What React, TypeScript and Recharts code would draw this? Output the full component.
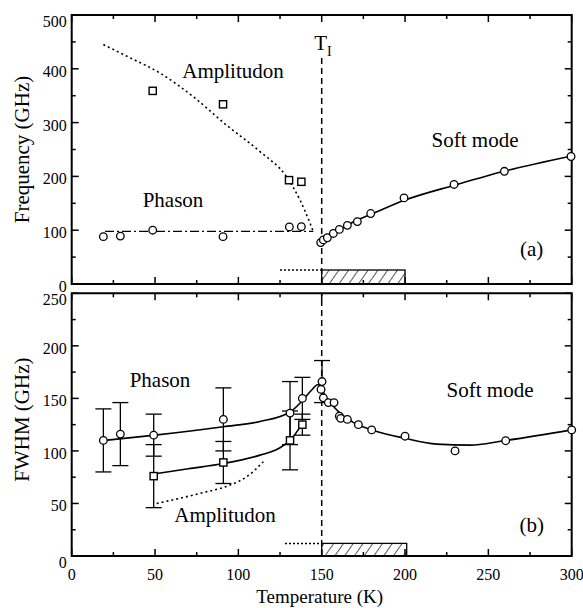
import React from 'react';
import {
  ComposedChart,
  XAxis,
  YAxis,
  Line,
  Scatter,
  ErrorBar,
  ReferenceLine,
  ReferenceArea,
  ReferenceDot,
} from 'recharts';

const FONT = "'Liberation Serif', 'DejaVu Serif', 'Times New Roman', Times, serif";
const TXT = { fontFamily: FONT };

// ---------- Panel (a): Frequency ----------
const ampFreqT = [48.6, 90.8, 130.4, 137.8];
const ampFreqV = [359, 334, 193, 190];
const phaFreqT = [19, 29.2, 48.6, 90.8, 130.6, 137.8];
const phaFreqV = [88, 89, 100, 88, 106, 106.5];
const softFreqT = [149.4, 151, 153.4, 157, 160.6, 165.4, 171.4, 179.4, 199.4, 229.4, 259.6, 299.6];
const softFreqV = [77, 82, 86, 94, 101.5, 109, 116, 131, 160, 185, 209.5, 237];

const ampFreqCurveT = [19, 34, 53, 73, 93, 113, 129, 137, 143, 145];
const ampFreqCurveV = [445, 422, 392, 348, 295, 246, 199, 156, 113, 97];
const phaFreqCurveT = [20, 145];
const phaFreqCurveV = [98, 98];
const softFreqCurveT = [149, 155, 160, 170, 180, 200, 230, 260, 300];
const softFreqCurveV = [77, 89, 99, 117, 130, 156, 184, 210, 238];

const hatchFreqT = [150, 200];
const hatchFreqTop = 26;
const dottedFreqT = [125, 150];
const tiFreqTop = 422;

// ---------- Panel (b): FWHM ----------
const phaWidthT = [19, 29.2, 49.2, 91, 131, 138.4, 150.2];
const phaWidthV = [110, 116, 115, 130, 136, 150, 166];
const phaWidthErr = [30, 30, 20, 30, 30, 20, 20];
const ampWidthT = [49.2, 91, 131, 138.4];
const ampWidthV = [76, 89, 110, 125];
const ampWidthErr = [30, 20, 28, 10];
const softWidthT = [149.6, 151, 154, 157.4, 160.6, 161.4, 165.4, 172, 180, 200, 230, 260.4, 300];
const softWidthV = [158.5, 150.5, 146, 146, 133, 131, 130, 125, 120, 114, 100, 109.7, 120];

const phaWidthCurveT = [20, 50, 91, 113, 131, 138.5, 144, 147.5, 150];
const phaWidthCurveV = [110, 115, 123, 128, 137, 148, 158, 163, 162];
const softWidthCurveT = [150, 152, 155, 161, 166, 172, 180, 200, 219, 239, 259, 300];
const softWidthCurveV = [162, 152, 146, 136, 130, 124.6, 120, 112, 106.5, 105.5, 109.6, 120];
const ampWidthCurveT = [49.2, 70, 91, 113, 125, 131, 138.4];
const ampWidthCurveV = [78, 83, 88, 96, 103, 110, 126];
const ampWidthDotT = [51, 77, 95, 105, 115];
const ampWidthDotV = [50, 59.6, 67.5, 75.4, 89.7];

const hatchWidthT = [150, 201];
const hatchWidthTop = 12;
const dottedWidthT = [128, 150];

const T_I = 150;

const xTicks = [0, 25, 50, 75, 100, 125, 150, 175, 200, 225, 250, 275, 300];
const freqTicks = [0, 50, 100, 150, 200, 250, 300, 350, 400, 450, 500];
const widthTicks = [0, 25, 50, 75, 100, 125, 150, 175, 200, 225, 250];

const annoA = [
  { x: 96.8, y: 396, text: 'Amplitudon' },
  { x: 60.8, y: 156, text: 'Phason' },
  { x: 242, y: 268, text: 'Soft mode' },
  { x: 276, y: 65, text: '(a)' },
];
const annoB = [
  { x: 53, y: 167.5, text: 'Phason' },
  { x: 92, y: 39, text: 'Amplitudon' },
  { x: 251, y: 158, text: 'Soft mode' },
  { x: 276, y: 29.5, text: '(b)' },
];
const tiLabelPos = { x: 150, y: 435 };

const zip = (t: number[], v: number[], e?: number[]) =>
  t.map((x, i) => (e ? { x, y: v[i], err: e[i] } : { x, y: v[i] }));

// ---------- layout ----------
const W = 583;
const LEFT = 71.7;
const RIGHT = 11.3;
const PLOT_W = W - LEFT - RIGHT;
const H1 = 300;
const TOP1 = 15;
const XH1 = 16;
const PLOT_H1 = H1 - TOP1 - XH1;
const H2 = 328;
const TOP2 = 13.3;
const XH2 = 52;
const PLOT_H2 = H2 - TOP2 - XH2;

const makeXTick = (plotH: number, showLabel: boolean) => (props: any) => {
  const { x, y, payload } = props;
  const v = payload.value;
  const major = v % 50 === 0;
  const len = major ? 7 : 4;
  return (
    <g>
      <line x1={x} x2={x} y1={y} y2={y - len} stroke="#000" strokeWidth={1.5} />
      <line x1={x} x2={x} y1={y - plotH} y2={y - plotH + len} stroke="#000" strokeWidth={1.5} />
      {showLabel && major ? (
        <text x={x} y={y + 24} textAnchor="middle" style={TXT} fontSize={16} fill="#000">
          {v}
        </text>
      ) : null}
    </g>
  );
};

const makeYTick = (plotW: number, step: number, maxV: number, lowZero: boolean) => (props: any) => {
  const { x, y, payload } = props;
  const v = payload.value;
  const major = v % step === 0;
  const len = major ? 7 : 4;
  let dy = 8;
  if (v === maxV) dy = 12;
  if (v === 0 && lowZero) dy = 12;
  return (
    <g>
      <line x1={x} x2={x + len} y1={y} y2={y} stroke="#000" strokeWidth={1.5} />
      <line x1={x + plotW} x2={x + plotW - len} y1={y} y2={y} stroke="#000" strokeWidth={1.5} />
      {major ? (
        <text x={x - 5} y={y + dy} textAnchor="end" style={TXT} fontSize={16} fill="#000">
          {v}
        </text>
      ) : null}
    </g>
  );
};

const circleShape = (p: any) => (
  <circle cx={p.cx} cy={p.cy} r={3.8} fill="#fff" stroke="#000" strokeWidth={1.3} />
);
const squareShape = (p: any) => (
  <rect x={p.cx - 3.6} y={p.cy - 3.6} width={7.2} height={7.2} fill="#fff" stroke="#000" strokeWidth={1.4} />
);

const hatchShape = (id: string) => (p: any) => (
  <g>
    <defs>
      <pattern id={id} patternUnits="userSpaceOnUse" width={8} height={8} patternTransform="rotate(35)">
        <line x1={0} y1={0} x2={0} y2={8} stroke="#000" strokeWidth={1.3} />
      </pattern>
    </defs>
    <rect x={p.x} y={p.y} width={p.width} height={p.height} fill={`url(#${id})`} stroke="#000" strokeWidth={1.3} />
  </g>
);

const textLabel = (text: string, size = 21) => ({
  content: (p: any) => {
    const vb = p.viewBox || {};
    const cx = (vb.x ?? 0) + (vb.width ?? 0) / 2;
    const cy = (vb.y ?? 0) + (vb.height ?? 0) / 2;
    return (
      <text x={cx} y={cy + 7} textAnchor="middle" style={TXT} fontSize={size} fill="#000">
        {text}
      </text>
    );
  },
});

const tiLabel = {
  content: (p: any) => {
    const vb = p.viewBox || {};
    const cx = (vb.x ?? 0) + (vb.width ?? 0) / 2;
    const cy = (vb.y ?? 0) + (vb.height ?? 0) / 2;
    return (
      <text x={cx - 7.5} y={cy} style={TXT} fontSize={21} fill="#000">
        T
        <tspan fontSize={14} dy={6}>
          I
        </tspan>
      </text>
    );
  },
};

const yTitle = (text: string, shift: number) => ({
  content: (p: any) => {
    const vb = p.viewBox || {};
    const cy = (vb.y ?? 0) + (vb.height ?? 0) / 2 + shift;
    const bx = 29;
    return (
      <text
        x={bx}
        y={cy}
        textAnchor="middle"
        style={TXT}
        fontSize={21}
        fill="#000"
        transform={`rotate(-90, ${bx}, ${cy})`}
      >
        {text}
      </text>
    );
  },
});

const xTitle = {
  content: (p: any) => {
    const vb = p.viewBox || {};
    const cx = (vb.x ?? 0) + (vb.width ?? 0) / 2 - 2;
    return (
      <text x={cx} y={323} textAnchor="middle" style={TXT} fontSize={19} fill="#000">
        Temperature (K)
      </text>
    );
  },
};

export default function App() {
  const ampFreq = zip(ampFreqT, ampFreqV);
  const phaFreq = zip(phaFreqT, phaFreqV);
  const softFreq = zip(softFreqT, softFreqV);
  const ampFreqCurve = zip(ampFreqCurveT, ampFreqCurveV);
  const phaFreqCurve = zip(phaFreqCurveT, phaFreqCurveV);
  const softFreqCurve = zip(softFreqCurveT, softFreqCurveV);
  const dottedFreq = dottedFreqT.map((x) => ({ x, y: hatchFreqTop }));

  const phaWidth = zip(phaWidthT, phaWidthV, phaWidthErr);
  const ampWidth = zip(ampWidthT, ampWidthV, ampWidthErr);
  const softWidth = zip(softWidthT, softWidthV);
  const phaWidthCurve = zip(phaWidthCurveT, phaWidthCurveV);
  const softWidthCurve = zip(softWidthCurveT, softWidthCurveV);
  const ampWidthCurve = zip(ampWidthCurveT, ampWidthCurveV);
  const ampWidthDot = zip(ampWidthDotT, ampWidthDotV);
  const dottedWidth = dottedWidthT.map((x) => ({ x, y: hatchWidthTop }));

  return (
    <div style={{ position: 'absolute', left: 0, top: 0, width: W, height: 608, background: '#fff', fontFamily: FONT }}>
      <div style={{ position: 'absolute', left: 0, top: 0 }}>
        <ComposedChart width={W} height={H1} margin={{ top: TOP1, right: RIGHT, bottom: 0, left: 0 }} style={TXT}>
          <XAxis
            dataKey="x"
            type="number"
            domain={[0, 300]}
            ticks={xTicks}
            interval={0}
            height={XH1}
            axisLine={false}
            tickLine={false}
            tickSize={0}
            tickMargin={0}
            tick={makeXTick(PLOT_H1, false)}
          />
          <YAxis
            type="number"
            domain={[0, 500]}
            ticks={freqTicks}
            interval={0}
            width={LEFT}
            axisLine={false}
            tickLine={false}
            tickSize={0}
            tickMargin={0}
            tick={makeYTick(PLOT_W, 100, 500, false)}
            label={yTitle('Frequency (GHz)', 0)}
          />
          <ReferenceArea x1={0} x2={300} y1={0} y2={500} fill="none" stroke="#000" strokeWidth={2} fillOpacity={0} />
          <ReferenceArea x1={hatchFreqT[0]} x2={hatchFreqT[1]} y1={0} y2={hatchFreqTop} shape={hatchShape('hatchA')} />
          <ReferenceLine
            segment={[
              { x: T_I, y: 0 },
              { x: T_I, y: tiFreqTop },
            ]}
            stroke="#000"
            strokeWidth={1.5}
            strokeDasharray="6 4"
          />
          <Line data={dottedFreq} dataKey="y" stroke="#000" strokeWidth={1.5} strokeDasharray="2 2" dot={false} activeDot={false} isAnimationActive={false} />
          <Line data={ampFreqCurve} dataKey="y" type="monotone" stroke="#000" strokeWidth={1.6} strokeDasharray="2 3" dot={false} activeDot={false} isAnimationActive={false} />
          <Line data={phaFreqCurve} dataKey="y" stroke="#000" strokeWidth={1.3} strokeDasharray="9 3 2 3" dot={false} activeDot={false} isAnimationActive={false} />
          <Line data={softFreqCurve} dataKey="y" type="monotone" stroke="#000" strokeWidth={1.6} dot={false} activeDot={false} isAnimationActive={false} />
          <Scatter data={ampFreq} dataKey="y" shape={squareShape} isAnimationActive={false} />
          <Scatter data={phaFreq} dataKey="y" shape={circleShape} isAnimationActive={false} />
          <Scatter data={softFreq} dataKey="y" shape={circleShape} isAnimationActive={false} />
          {annoA.map((a) => (
            <ReferenceDot key={a.text} x={a.x} y={a.y} r={0} fill="none" stroke="none" label={textLabel(a.text)} />
          ))}
          <ReferenceDot x={tiLabelPos.x} y={tiLabelPos.y} r={0} fill="none" stroke="none" label={tiLabel} />
        </ComposedChart>
      </div>
      <div style={{ position: 'absolute', left: 0, top: 280 }}>
        <ComposedChart width={W} height={H2} margin={{ top: TOP2, right: RIGHT, bottom: 0, left: 0 }} style={TXT}>
          <XAxis
            dataKey="x"
            type="number"
            domain={[0, 300]}
            ticks={xTicks}
            interval={0}
            height={XH2}
            axisLine={false}
            tickLine={false}
            tickSize={0}
            tickMargin={0}
            tick={makeXTick(PLOT_H2, true)}
            label={xTitle}
          />
          <YAxis
            type="number"
            domain={[0, 250]}
            ticks={widthTicks}
            interval={0}
            width={LEFT}
            axisLine={false}
            tickLine={false}
            tickSize={0}
            tickMargin={0}
            tick={makeYTick(PLOT_W, 50, 250, true)}
            label={yTitle('FWHM (GHz)', -5)}
          />
          <ReferenceArea x1={0} x2={300} y1={0} y2={250} fill="none" stroke="#000" strokeWidth={2} fillOpacity={0} />
          <ReferenceArea x1={hatchWidthT[0]} x2={hatchWidthT[1]} y1={0} y2={hatchWidthTop} shape={hatchShape('hatchB')} />
          <ReferenceLine x={T_I} stroke="#000" strokeWidth={1.5} strokeDasharray="6 4" />
          <Line data={dottedWidth} dataKey="y" stroke="#000" strokeWidth={1.5} strokeDasharray="2 2" dot={false} activeDot={false} isAnimationActive={false} />
          <Line data={ampWidthDot} dataKey="y" type="monotone" stroke="#000" strokeWidth={1.6} strokeDasharray="2 3" dot={false} activeDot={false} isAnimationActive={false} />
          <Line data={phaWidthCurve} dataKey="y" type="monotone" stroke="#000" strokeWidth={1.6} dot={false} activeDot={false} isAnimationActive={false} />
          <Line data={softWidthCurve} dataKey="y" type="monotone" stroke="#000" strokeWidth={1.6} dot={false} activeDot={false} isAnimationActive={false} />
          <Line data={ampWidthCurve} dataKey="y" type="monotone" stroke="#000" strokeWidth={1.6} dot={false} activeDot={false} isAnimationActive={false} />
          <Scatter data={phaWidth} dataKey="y" shape={circleShape} isAnimationActive={false}>
            <ErrorBar dataKey="err" direction="y" width={8} stroke="#000" strokeWidth={1.3} isAnimationActive={false} />
          </Scatter>
          <Scatter data={ampWidth} dataKey="y" shape={squareShape} isAnimationActive={false}>
            <ErrorBar dataKey="err" direction="y" width={8} stroke="#000" strokeWidth={1.3} isAnimationActive={false} />
          </Scatter>
          <Scatter data={softWidth} dataKey="y" shape={circleShape} isAnimationActive={false} />
          {annoB.map((a) => (
            <ReferenceDot key={a.text} x={a.x} y={a.y} r={0} fill="none" stroke="none" label={textLabel(a.text)} />
          ))}
        </ComposedChart>
      </div>
    </div>
  );
}
